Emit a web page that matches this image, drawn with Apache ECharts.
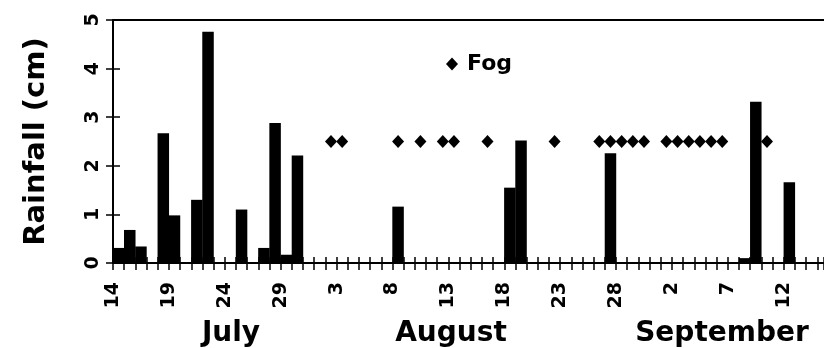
<!DOCTYPE html>
<html>
<head>
<meta charset="utf-8">
<script src="https://cdn.jsdelivr.net/npm/echarts@6/dist/echarts.min.js"></script>
<style>
html, body { margin: 0; padding: 0; background: #fff; }
#chart { width: 824px; height: 348px; }
</style>
</head>
<body>
<div id="chart"></div>
<script>
// day index counted from 14 July (0 = Jul 14, 18 = Aug 1, 49 = Sep 1)
var tickLabels = ['14', '19', '24', '29', '3', '8', '13', '18', '23', '28', '2', '7', '12'];
var months = ['July', 'August', 'September'];

var rainDays = [0, 1, 2, 4, 5, 7, 8, 11, 13, 14, 15, 16, 25, 35, 36, 44, 56, 57, 60];
var rainCm = [0.31, 0.68, 0.34, 2.67, 0.98, 1.30, 4.76, 1.10, 0.31, 2.88, 0.17, 2.21, 1.16, 1.55, 2.52, 2.26, 0.10, 3.32, 1.66];

var fogDays = [19, 20, 25, 27, 29, 30, 33, 39, 43, 44, 45, 46, 47, 49, 50, 51, 52, 53, 54, 58];
var fogLevel = 2.5;

var FONT = 'DejaVu Sans';
var chart = echarts.init(document.getElementById('chart'));

var rainData = rainDays.map(function (d, k) { return [d + 0.5, rainCm[k]]; });
var fogData = fogDays.map(function (d) { return [d + 0.5, fogLevel]; });

var xMax = 63.6;

var option = {
    animation: false,
    backgroundColor: '#fff',
    grid: { left: 113, right: 0, top: 20, bottom: 85 },
    legend: {
        data: ['Fog'],
        left: 446,
        top: 53,
        padding: 0,
        itemWidth: 12,
        itemHeight: 13,
        icon: 'diamond',
        itemStyle: { color: '#000', opacity: 1 },
        textStyle: { fontFamily: FONT, fontWeight: 'bold', fontSize: 22, color: '#000', padding: [0, 0, 0, 4] }
    },
    xAxis: [
        {
            type: 'value', min: 0, max: xMax, interval: 1, position: 'bottom',
            axisLine: { show: true, onZero: false, lineStyle: { color: '#000', width: 2 } },
            axisTick: { show: true, inside: false, length: 7, lineStyle: { color: '#000', width: 1.5 } },
            axisLabel: {
                rotate: 90, margin: 19, color: '#000',
                fontFamily: FONT, fontWeight: 'bold', fontSize: 19,
                formatter: function (v) {
                    var r = Math.round(v);
                    if (Math.abs(v - r) > 1e-6 || r % 5 !== 0) return '';
                    return tickLabels[r / 5] || '';
                }
            },
            splitLine: { show: false }
        },
        {
            // ticks crossing the axis
            type: 'value', min: 0, max: xMax, interval: 1, position: 'bottom',
            axisLine: { show: false, onZero: false },
            axisTick: { show: true, inside: true, length: 6, lineStyle: { color: '#000', width: 1.5 } },
            axisLabel: { show: false },
            splitLine: { show: false }
        },
        {
            type: 'value', min: 0, max: xMax, position: 'top',
            axisLine: { show: true, onZero: false, lineStyle: { color: '#000', width: 2 } },
            axisTick: { show: false },
            axisLabel: { show: false },
            splitLine: { show: false }
        }
    ],
    yAxis: [
        {
            type: 'value', min: 0, max: 5, interval: 1, position: 'left',
            name: 'Rainfall (cm)',
            nameLocation: 'middle',
            nameGap: 62,
            nameRotate: 90,
            nameTextStyle: { fontFamily: FONT, fontWeight: 'bold', fontSize: 29, color: '#000' },
            axisLine: { show: true, onZero: false, lineStyle: { color: '#000', width: 2 } },
            axisTick: { show: true, inside: false, length: 7, lineStyle: { color: '#000', width: 1.5 } },
            axisLabel: {
                rotate: 90, margin: 10, color: '#000',
                fontFamily: FONT, fontWeight: 'bold', fontSize: 19
            },
            splitLine: { show: false }
        },
        {
            type: 'value', min: 0, max: 5, interval: 1, position: 'left',
            axisLine: { show: false, onZero: false },
            axisTick: { show: true, inside: true, length: 7, lineStyle: { color: '#000', width: 1.5 } },
            axisLabel: { show: false },
            splitLine: { show: false }
        }
    ],
    graphic: [
        { type: 'text', style: { text: months[0], x: 231, y: 334, textAlign: 'center', textVerticalAlign: 'middle', font: 'bold 28px "DejaVu Sans"', fill: '#000' } },
        { type: 'text', style: { text: months[1], x: 451, y: 334, textAlign: 'center', textVerticalAlign: 'middle', font: 'bold 28px "DejaVu Sans"', fill: '#000' } },
        { type: 'text', style: { text: months[2], x: 722, y: 334, textAlign: 'center', textVerticalAlign: 'middle', font: 'bold 28px "DejaVu Sans"', fill: '#000' } }
    ],
    series: [
        {
            name: 'Rainfall',
            type: 'bar',
            xAxisIndex: 0,
            yAxisIndex: 0,
            barWidth: 11.5,
            itemStyle: { color: '#000' },
            data: rainData
        },
        {
            name: 'Fog',
            type: 'scatter',
            xAxisIndex: 0,
            yAxisIndex: 0,
            symbol: 'diamond',
            symbolSize: [12, 13],
            itemStyle: { color: '#000', opacity: 1 },
            data: fogData
        }
    ]
};
chart.setOption(option);
</script>
</body>
</html>
